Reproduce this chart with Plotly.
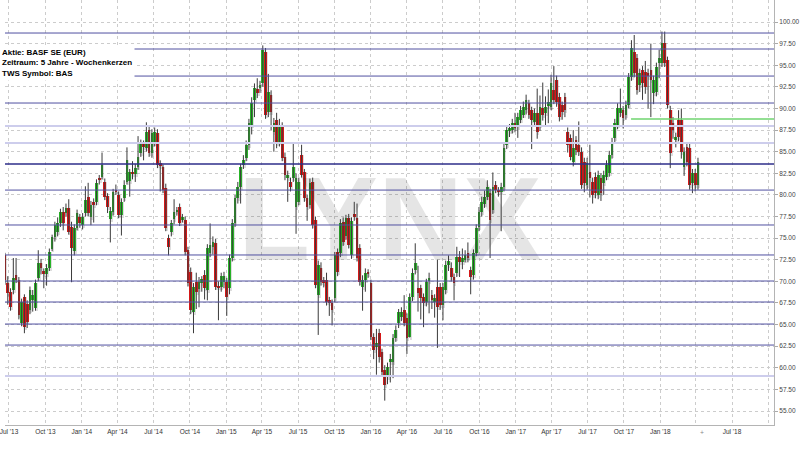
import plotly.graph_objects as go
import pandas as pd

# ---- weekly candles (BASF SE, EUR) ----
opens = [
    73.0, 69.8, 68.8, 69.0, 70.7, 70.2, 65.2, 68.2, 67.4, 66.7,
    67.8, 66.9, 70.4, 72.1, 71.2, 70.8, 71.6, 73.8, 75.1, 75.7,
    76.7, 78.0, 77.9, 78.5, 76.3, 73.5, 76.2, 77.4, 76.5, 77.9,
    79.8, 77.4, 79.2, 79.2, 82.0, 82.1, 81.5, 79.9, 77.2, 78.0,
    80.6, 80.0, 77.7, 79.6, 81.5, 81.6, 82.7, 82.4, 83.2, 84.8,
    86.0, 85.4, 87.5, 84.9, 86.0, 87.2, 83.7, 83.2, 80.8, 75.0,
    75.7, 77.2, 78.1, 78.6,
    77.1, 77.1, 73.6, 71.1, 66.5, 69.9, 69.1, 69.8, 70.7, 69.0,
    73.3, 74.0, 74.4, 69.5, 69.3, 69.9, 69.9, 69.2, 72.7, 76.7,
    79.6, 80.9, 83.5, 84.3, 85.8, 88.1, 91.0, 92.2, 92.4, 92.9,
    96.5, 89.6, 91.6, 87.3, 88.7, 86.1, 87.9, 84.4, 82.0, 81.5,
    82.0, 78.6, 79.2, 84.6, 82.6, 79.6, 78.8, 81.5, 77.1, 68.4,
    71.5, 70.1, 70.2, 67.8, 67.5, 68.1, 73.4, 73.3, 76.9, 75.3,
    77.3, 73.0, 77.8,
    77.3, 73.9, 69.3, 70.2, 71.1, 69.8, 63.6, 62.4, 64.0, 61.8,
    59.7, 58.9, 60.7, 60.7, 63.4, 65.2, 65.9, 66.7, 65.8, 63.6,
    68.2, 71.3, 69.2, 69.2, 68.2, 67.6, 70.0, 68.4, 67.6, 69.3,
    69.3, 67.3, 69.0, 71.9, 71.6, 70.5, 71.0, 72.8, 72.2, 72.5,
    73.3, 71.3, 70.7, 73.3, 76.3, 78.0, 79.0, 79.8, 80.2, 78.2,
    81.1, 80.6, 80.3, 80.9, 85.8, 87.4, 87.5, 88.3, 87.9, 88.7,
    89.2, 89.8, 90.6,
    89.8, 88.4, 89.5, 88.1, 90.0, 89.5, 90.3, 90.2, 92.1, 93.3,
    91.3, 90.4, 91.3, 87.3, 86.6, 83.8, 86.3, 85.8, 85.0, 83.8,
    81.1, 82.6, 81.5, 82.1, 80.0, 82.0, 81.4, 82.1, 82.5, 84.6,
    86.6, 88.1, 89.5, 89.8, 89.2, 90.4, 93.6, 96.5, 95.8, 92.7,
    94.4, 94.2, 94.1, 94.4, 91.8, 91.9, 95.3, 95.3, 97.6, 95.6,
    89.8, 88.3, 86.4, 88.7, 88.7, 83.2, 85.5, 85.4, 81.4, 82.5,
    81.1,
]
highs = [
    73.3, 70.6, 69.2, 72.7, 72.7, 70.5, 68.0, 68.5, 67.8, 69.4,
    69.0, 70.2, 73.6, 72.6, 71.5, 72.0, 73.8, 75.4, 76.9, 77.4,
    78.4, 78.6, 79.0, 79.5, 76.9, 76.6, 78.3, 77.8, 77.9, 81.0,
    81.4, 79.3, 79.6, 81.8, 82.3, 84.9, 81.9, 80.2, 78.6, 80.7,
    81.2, 80.4, 79.6, 81.7, 85.5, 83.0, 83.9, 83.6, 86.8, 86.4,
    86.3, 88.4, 88.0, 87.6, 87.8, 87.6, 84.0, 83.5, 81.3, 75.4,
    77.1, 79.5, 78.6, 79.0,
    77.8, 77.5, 74.0, 71.6, 69.8, 71.0, 70.5, 70.6, 71.3, 74.3,
    76.7, 75.2, 74.9, 70.0, 71.0, 71.1, 70.4, 73.1, 77.2, 80.0,
    81.5, 83.6, 84.6, 86.3, 88.8, 91.3, 92.9, 93.5, 93.2, 97.3,
    97.0, 94.0, 92.1, 88.9, 89.5, 88.8, 88.4, 84.9, 82.8, 82.0,
    86.0, 82.5, 82.0, 85.8, 83.0, 80.0, 81.9, 82.0, 77.5, 72.4,
    72.2, 70.5, 71.0, 68.2, 67.9, 73.4, 73.8, 77.2, 77.4, 77.7,
    77.8, 77.4, 79.2,
    79.0, 74.3, 70.7, 71.5, 71.4, 70.2, 64.0, 64.5, 64.5, 62.2,
    60.3, 60.6, 61.6, 63.9, 64.9, 66.8, 67.0, 68.4, 66.3, 68.6,
    71.5, 74.4, 71.8, 69.6, 68.6, 70.3, 71.0, 69.0, 68.5, 72.5,
    69.8, 69.8, 72.4, 73.0, 72.2, 70.9, 74.0, 73.5, 73.8, 73.6,
    74.5, 71.7, 73.7, 76.6, 78.6, 79.8, 80.5, 81.7, 80.7, 82.6,
    81.6, 80.9, 81.4, 85.9, 88.0, 88.2, 88.8, 89.5, 89.5, 90.3,
    90.8, 91.6, 91.0,
    90.2, 90.0, 92.3, 91.5, 93.0, 91.4, 92.2, 93.9, 94.9, 93.8,
    91.8, 90.8, 91.8, 87.8, 87.0, 87.5, 86.8, 88.5, 85.5, 84.3,
    84.3, 85.8, 82.0, 82.6, 82.8, 82.5, 82.8, 84.0, 85.1, 86.6,
    88.8, 90.6, 92.3, 90.3, 90.9, 94.1, 97.9, 98.5, 96.3, 94.6,
    94.9, 95.5, 94.6, 97.5, 93.8, 95.3, 96.8, 98.9, 98.9, 96.0,
    90.3, 89.0, 87.2, 89.8, 90.0, 85.5, 86.1, 85.9, 83.0, 83.0,
    84.3,
]
lows = [
    69.6, 67.3, 66.6, 68.5, 69.8, 65.6, 64.8, 64.0, 64.6, 66.2,
    66.5, 66.6, 70.0, 70.8, 69.2, 69.5, 71.2, 73.5, 74.6, 75.2,
    76.3, 75.9, 77.5, 75.4, 69.9, 73.0, 75.9, 76.2, 76.0, 77.5,
    77.5, 76.5, 76.8, 78.8, 81.2, 81.8, 79.4, 77.9, 74.5, 77.6,
    80.0, 77.3, 75.3, 79.2, 81.2, 79.8, 81.8, 81.5, 82.9, 84.4,
    84.0, 85.0, 84.4, 84.3, 85.6, 83.1, 80.4, 80.2, 75.8, 73.0,
    75.2, 76.6, 77.6, 76.4,
    76.8, 73.0, 69.4, 66.2, 64.0, 66.8, 67.0, 68.8, 67.9, 67.8,
    72.8, 73.1, 69.0, 65.5, 68.8, 69.2, 66.0, 68.5, 72.3, 76.3,
    79.0, 79.0, 83.0, 83.9, 85.2, 87.0, 89.0, 91.2, 91.8, 92.5,
    88.8, 89.0, 87.5, 85.0, 85.4, 85.6, 83.9, 81.7, 79.2, 80.4,
    81.5, 75.5, 78.8, 82.0, 79.2, 77.0, 78.4, 76.1, 69.2, 63.8,
    69.5, 69.3, 67.2, 66.0, 64.9, 67.6, 70.6, 72.8, 74.1, 74.8,
    73.8, 72.6, 77.0,
    72.3, 69.5, 66.6, 68.8, 70.4, 63.2, 61.0, 59.2, 60.6, 59.0,
    56.2, 58.1, 58.3, 58.8, 63.0, 64.6, 65.4, 64.8, 61.6, 63.5,
    67.7, 70.8, 66.5, 65.6, 64.7, 67.1, 66.3, 66.8, 65.8, 62.3,
    66.7, 65.5, 68.5, 71.2, 70.0, 67.8, 70.5, 70.5, 71.4, 72.2,
    72.2, 68.5, 70.2, 72.9, 75.8, 77.5, 78.5, 79.4, 72.7, 77.8,
    80.2, 79.8, 75.8, 80.4, 85.3, 86.7, 87.1, 87.3, 86.6, 88.3,
    88.9, 89.3, 88.8,
    85.3, 87.9, 86.5, 87.4, 88.6, 88.0, 88.3, 89.8, 90.5, 90.2,
    88.5, 88.7, 89.0, 84.9, 84.0, 83.3, 84.6, 84.5, 80.7, 80.3,
    80.6, 79.7, 79.0, 79.6, 79.5, 79.3, 80.0, 81.7, 82.1, 84.2,
    86.1, 87.6, 89.0, 87.7, 88.7, 90.0, 93.2, 93.6, 91.6, 91.9,
    91.0, 91.7, 90.0, 89.0, 90.5, 91.4, 93.5, 94.8, 94.8, 90.0,
    83.1, 86.5, 85.5, 86.2, 84.2, 82.2, 83.3, 80.6, 80.2, 80.4,
    80.6,
]
closes = [
    70.2, 68.6, 67.0, 70.4, 70.2, 66.1, 67.6, 64.7, 65.3, 69.0,
    68.4, 69.8, 72.1, 71.6, 70.9, 71.6, 73.4, 75.1, 76.5, 76.7,
    78.0, 76.7, 78.5, 75.7, 73.9, 76.2, 77.9, 76.7, 77.4, 79.4,
    77.9, 78.8, 78.8, 81.4, 81.7, 83.5, 79.8, 78.6, 78.1, 80.3,
    80.4, 77.7, 79.2, 81.1, 84.0, 82.6, 82.4, 83.1, 84.4, 86.0,
    85.6, 87.3, 84.8, 87.2, 87.3, 83.5, 83.4, 80.6, 76.2, 74.0,
    76.7, 78.0, 78.3, 76.8,
    77.4, 73.4, 69.8, 66.7, 69.3, 68.8, 69.9, 70.3, 69.2, 73.9,
    74.2, 74.5, 69.3, 69.3, 70.6, 70.6, 68.2, 72.7, 76.8, 79.6,
    80.9, 83.2, 84.0, 85.8, 88.3, 90.6, 92.4, 91.8, 92.7, 96.8,
    89.2, 91.9, 89.6, 88.3, 86.0, 87.9, 84.3, 82.3, 82.3, 80.9,
    83.2, 82.0, 81.5, 82.3, 79.6, 78.6, 81.4, 76.5, 69.6, 71.9,
    69.9, 69.8, 67.6, 67.5, 66.7, 73.0, 71.1, 76.7, 74.5, 77.3,
    74.2, 77.0, 77.5,
    72.7, 69.9, 70.2, 71.0, 70.9, 63.6, 62.1, 62.9, 61.2, 59.5,
    58.0, 60.1, 61.0, 63.4, 64.4, 66.4, 66.4, 65.2, 63.4, 68.2,
    71.0, 72.1, 68.6, 68.1, 67.5, 69.9, 70.4, 67.8, 68.1, 67.0,
    67.3, 69.3, 71.9, 72.3, 70.5, 69.8, 72.8, 72.2, 72.7, 73.0,
    72.7, 70.5, 73.3, 76.2, 78.0, 79.2, 79.8, 80.9, 77.1, 80.9,
    80.6, 80.3, 80.9, 85.4, 87.5, 87.7, 88.3, 87.7, 89.0, 89.8,
    90.2, 91.0, 89.2,
    88.7, 89.5, 87.3, 90.2, 89.2, 90.2, 90.7, 92.9, 91.0, 90.7,
    89.0, 89.6, 89.8, 85.8, 84.4, 85.4, 85.2, 85.0, 81.1, 81.4,
    83.7, 81.9, 80.0, 80.2, 82.3, 80.2, 82.3, 83.5, 84.6, 86.1,
    88.3, 90.1, 90.1, 88.9, 90.4, 93.6, 97.0, 94.1, 92.1, 94.1,
    92.9, 92.5, 93.7, 93.3, 93.3, 94.8, 95.8, 97.6, 95.3, 90.4,
    84.8, 87.5, 86.7, 86.7, 85.0, 85.0, 83.8, 81.1, 82.5, 81.1,
    83.8,
]

first_week = "2013-06-21"

# horizontal support / resistance lines
levels_dark = [98.73, 96.88, 93.75, 90.63, 80.56, 76.52, 73.05, 70.04, 67.61, 65.06, 62.63]
level_key = 83.57
levels_light = [87.97, 86.0, 59.05]
green_level = 88.78
green_start = "2017-10-19"

x_range = ["2013-06-21", "2018-10-15"]
y_range = [53.38, 102.55]

tick_dates = ["2013-07-01", "2013-10-01", "2014-01-01", "2014-04-01", "2014-07-01",
              "2014-10-01", "2015-01-01", "2015-04-01", "2015-07-01", "2015-10-01",
              "2016-01-01", "2016-04-01", "2016-07-01", "2016-10-01", "2017-01-01",
              "2017-04-01", "2017-07-01", "2017-10-01", "2018-01-01", "2018-04-01",
              "2018-07-01", "2018-10-01"]
tick_labels = ["Jul '13", "Oct '13", "Jan '14", "Apr '14", "Jul '14", "Oct '14",
               "Jan '15", "Apr '15", "Jul '15", "Oct '15", "Jan '16", "Apr '16",
               "Jul '16", "Oct '16", "Jan '17", "Apr '17", "Jul '17", "Oct '17",
               "Jan '18", "", "Jul '18", ""]
y_ticks = [55.0, 57.5, 60.0, 62.5, 65.0, 67.5, 70.0, 72.5, 75.0, 77.5,
           80.0, 82.5, 85.0, 87.5, 90.0, 92.5, 95.0, 97.5, 100.0]

info_lines = ["Aktie: BASF SE (EUR)", "Zeitraum: 5 Jahre - Wochenkerzen", "TWS Symbol: BAS"]

# ---------------------------------------------------------------
n = len(closes)
dates = pd.date_range(first_week, periods=n, freq="7D")
DAY_MS = 24 * 3600 * 1000

GREEN = "#28b428"
RED = "#d41818"

wick_x, wick_y = [], []
for d, h, l in zip(dates, highs, lows):
    wick_x += [d, d, None]
    wick_y += [l, h, None]

body_base = [min(o, c) for o, c in zip(opens, closes)]
body_len = [max(abs(c - o), 0.12) for o, c in zip(opens, closes)]
body_col = [GREEN if c >= o else RED for o, c in zip(opens, closes)]

# soft drop shadow, shifted a little to the right / down
shadow_x = dates + pd.Timedelta(days=3)
shadow_base = [b - 0.35 for b in body_base]
shadow_len = [h + 0.35 for h in body_len]

fig = go.Figure()

# watermark (drawn first so everything sits on top of it)
fig.add_trace(go.Scatter(
    x=[pd.Timestamp("2016-02-18")], y=[75.9], mode="text", text=["LYNX"],
    textposition="middle center",
    textfont=dict(size=118, color="rgba(0,0,0,0.10)",
                  family="Liberation Sans Narrow, Arial Narrow, Liberation Sans, Arial",
                  weight="bold"),
    hoverinfo="skip", showlegend=False))

fig.add_trace(go.Bar(
    x=shadow_x, y=shadow_len, base=shadow_base,
    width=5.5 * DAY_MS,
    marker=dict(color="rgba(0,0,0,0.13)", line=dict(width=0)),
    showlegend=False, hoverinfo="skip"))

fig.add_trace(go.Scatter(
    x=wick_x, y=wick_y, mode="lines",
    line=dict(color="#3a3a3a", width=1),
    hoverinfo="skip", showlegend=False))

fig.add_trace(go.Bar(
    x=dates, y=body_len, base=body_base,
    width=6.8 * DAY_MS,
    marker=dict(color=body_col, line=dict(width=0)),
    showlegend=False, hoverinfo="skip"))

shapes = []
for lv in levels_dark:
    shapes.append(dict(type="line", xref="paper", x0=0, x1=1, yref="y", y0=lv, y1=lv,
                       line=dict(color="#5050a0", width=1), layer="above"))
for lv in levels_light:
    shapes.append(dict(type="line", xref="paper", x0=0, x1=1, yref="y", y0=lv, y1=lv,
                       line=dict(color="#cdcdec", width=2), layer="above"))
shapes.append(dict(type="line", xref="paper", x0=0, x1=1, yref="y", y0=level_key, y1=level_key,
                   line=dict(color="#2e2e8a", width=1.6), layer="above"))
shapes.append(dict(type="line", xref="x", x0=green_start, x1=x_range[1], yref="y",
                   y0=green_level, y1=green_level,
                   line=dict(color="#6fd46f", width=1.6), layer="above"))

annotations = [
    dict(xref="paper", yref="paper", x=-6 / 776, y=0.893, xanchor="left", yanchor="top",
         text="<br>".join("<b>%s</b>" % t for t in info_lines), align="left",
         showarrow=False, bgcolor="white", borderpad=2,
         font=dict(size=8, color="black", family="Liberation Sans, Arial")),
    dict(xref="paper", yref="paper", x=703 / 776, y=-0.018, xanchor="center", yanchor="middle",
         text="+", showarrow=False, font=dict(size=7, color="#888888")),
]

fig.update_layout(
    width=800, height=450,
    margin=dict(l=0, r=24, t=0, b=25),
    paper_bgcolor="white", plot_bgcolor="white",
    barmode="overlay", bargap=0,
    shapes=shapes, annotations=annotations,
    showlegend=False,
    xaxis=dict(type="date", range=x_range, tickvals=tick_dates, ticktext=tick_labels,
               showgrid=True, gridcolor="#cccccc", griddash="dot", gridwidth=1,
               showline=True, linecolor="#b4b4b4", linewidth=1, ticks="",
               zeroline=False, ticklabeloverflow="allow",
               tickfont=dict(size=6.5, color="#333333", family="Liberation Sans, Arial")),
    yaxis=dict(side="right", range=y_range, tickvals=y_ticks, tickformat=".2f",
               showgrid=True, gridcolor="#cccccc", griddash="dot", gridwidth=1,
               showline=True, linecolor="#b4b4b4", linewidth=1,
               ticks="outside", ticklen=3, tickcolor="#aaaaaa",
               zeroline=False,
               tickfont=dict(size=6.5, color="#444444", family="Liberation Sans, Arial")),
)

fig.write_html("out.html", config={"displayModeBar": False},
               post_script="document.body.style.margin='0';")
